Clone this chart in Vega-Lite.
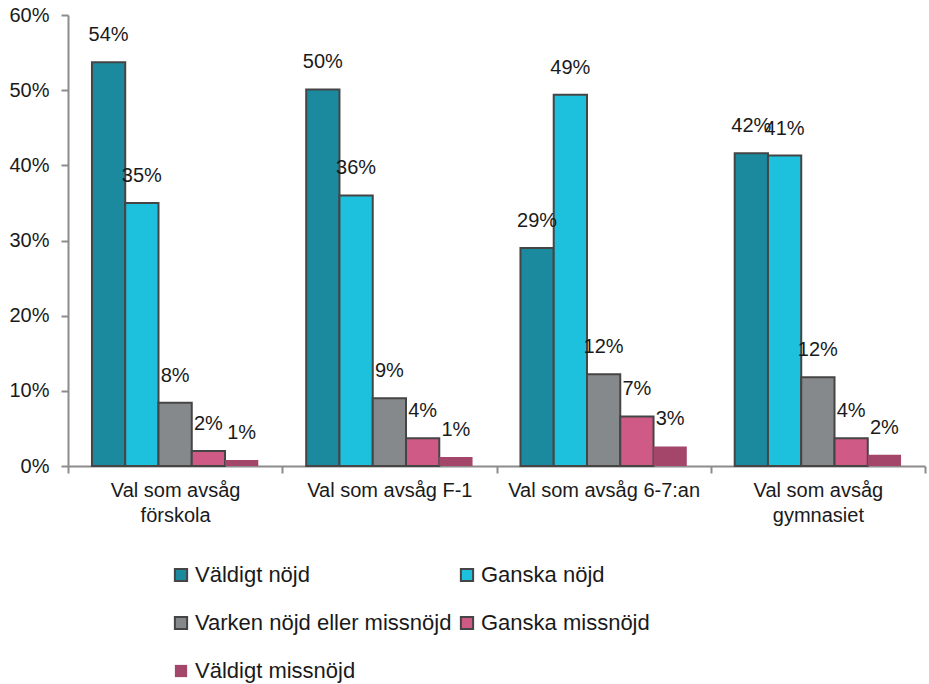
{
  "$schema": "https://vega.github.io/schema/vega-lite/v6.json",
  "width": 857,
  "height": 451,
  "autosize": {"type": "none"},
  "padding": {"left": 68, "top": 15, "right": 4, "bottom": 218},
  "background": "white",
  "config": {
    "view": {"stroke": null},
    "font": "Liberation Sans",
    "text": {"font": "Liberation Sans"}
  },
  "data": {
    "values": [
      {"grupp": "Val som avsåg|förskola", "svar": "Väldigt nöjd", "andel": 0.537},
      {"grupp": "Val som avsåg|förskola", "svar": "Ganska nöjd", "andel": 0.350},
      {"grupp": "Val som avsåg|förskola", "svar": "Varken nöjd eller missnöjd", "andel": 0.084},
      {"grupp": "Val som avsåg|förskola", "svar": "Ganska missnöjd", "andel": 0.020},
      {"grupp": "Val som avsåg|förskola", "svar": "Väldigt missnöjd", "andel": 0.008},
      {"grupp": "Val som avsåg F-1", "svar": "Väldigt nöjd", "andel": 0.501},
      {"grupp": "Val som avsåg F-1", "svar": "Ganska nöjd", "andel": 0.360},
      {"grupp": "Val som avsåg F-1", "svar": "Varken nöjd eller missnöjd", "andel": 0.090},
      {"grupp": "Val som avsåg F-1", "svar": "Ganska missnöjd", "andel": 0.037},
      {"grupp": "Val som avsåg F-1", "svar": "Väldigt missnöjd", "andel": 0.012},
      {"grupp": "Val som avsåg 6-7:an", "svar": "Väldigt nöjd", "andel": 0.290},
      {"grupp": "Val som avsåg 6-7:an", "svar": "Ganska nöjd", "andel": 0.494},
      {"grupp": "Val som avsåg 6-7:an", "svar": "Varken nöjd eller missnöjd", "andel": 0.122},
      {"grupp": "Val som avsåg 6-7:an", "svar": "Ganska missnöjd", "andel": 0.066},
      {"grupp": "Val som avsåg 6-7:an", "svar": "Väldigt missnöjd", "andel": 0.026},
      {"grupp": "Val som avsåg|gymnasiet", "svar": "Väldigt nöjd", "andel": 0.416},
      {"grupp": "Val som avsåg|gymnasiet", "svar": "Ganska nöjd", "andel": 0.413},
      {"grupp": "Val som avsåg|gymnasiet", "svar": "Varken nöjd eller missnöjd", "andel": 0.118},
      {"grupp": "Val som avsåg|gymnasiet", "svar": "Ganska missnöjd", "andel": 0.037},
      {"grupp": "Val som avsåg|gymnasiet", "svar": "Väldigt missnöjd", "andel": 0.015}
    ]
  },
  "encoding": {
    "x": {
      "field": "grupp",
      "type": "nominal",
      "sort": null,
      "scale": {"paddingInner": 0, "paddingOuter": 0},
      "axis": {
        "title": null,
        "labelAngle": 0,
        "labelExpr": "isValid(datum.value) ? split(datum.value, '|') : ''",
        "labelFont": "Liberation Sans",
        "labelFontSize": 20,
        "labelColor": "#1a1a1a",
        "labelLineHeight": 25,
        "labelPadding": 7,
        "labelLimit": 400,
        "tickBand": "extent",
        "tickSize": 7,
        "tickColor": "#8c8c8c",
        "tickWidth": 2,
        "domainColor": "#8c8c8c",
        "domainWidth": 2
      }
    },
    "xOffset": {
      "field": "svar",
      "type": "nominal",
      "sort": ["Väldigt nöjd", "Ganska nöjd", "Varken nöjd eller missnöjd", "Ganska missnöjd", "Väldigt missnöjd"],
      "scale": {"paddingInner": 0, "paddingOuter": 0.72}
    },
    "y": {
      "field": "andel",
      "type": "quantitative",
      "scale": {"domain": [0, 0.6], "nice": false},
      "axis": {
        "title": null,
        "format": ".0%",
        "values": [0, 0.1, 0.2, 0.3, 0.4, 0.5, 0.6],
        "grid": false,
        "labelFont": "Liberation Sans",
        "labelFontSize": 20,
        "labelColor": "#1a1a1a",
        "labelPadding": 12,
        "tickSize": 7,
        "tickColor": "#8c8c8c",
        "tickWidth": 2,
        "domainColor": "#8c8c8c",
        "domainWidth": 2
      }
    }
  },
  "layer": [
    {
      "mark": {"type": "bar", "strokeWidth": 2},
      "encoding": {
        "fill": {
          "field": "svar",
          "type": "nominal",
          "sort": ["Väldigt nöjd", "Ganska nöjd", "Varken nöjd eller missnöjd", "Ganska missnöjd", "Väldigt missnöjd"],
          "scale": {
            "domain": ["Väldigt nöjd", "Ganska nöjd", "Varken nöjd eller missnöjd", "Ganska missnöjd", "Väldigt missnöjd"],
            "range": ["#1b8a9e", "#1ec1dd", "#86898b", "#cf5a86", "#a4466a"]
          },
          "legend": {
            "title": null,
            "orient": "none",
            "legendX": 102,
            "legendY": 549,
            "columns": 2,
            "direction": "horizontal",
            "symbolType": "square",
            "symbolSize": 150,
            "symbolStrokeWidth": 2,
            "labelFont": "Liberation Sans",
            "labelFontSize": 22,
            "labelColor": "#1a1a1a",
            "labelOffset": 3,
            "rowPadding": 26,
            "columnPadding": 4,
            "labelLimit": 400
          }
        },
        "stroke": {
          "field": "svar",
          "type": "nominal",
          "sort": ["Väldigt nöjd", "Ganska nöjd", "Varken nöjd eller missnöjd", "Ganska missnöjd", "Väldigt missnöjd"],
          "scale": {
            "domain": ["Väldigt nöjd", "Ganska nöjd", "Varken nöjd eller missnöjd", "Ganska missnöjd", "Väldigt missnöjd"],
            "range": ["#454545", "#454545", "#454545", "#454545", "transparent"]
          },
          "legend": null
        }
      }
    },
    {
      "mark": {"type": "text", "baseline": "middle", "align": "center", "dy": -27, "fontSize": 20, "font": "Liberation Sans", "color": "#1a1a1a"},
      "encoding": {
        "text": {"field": "andel", "type": "quantitative", "format": ".0%"}
      }
    }
  ]
}
